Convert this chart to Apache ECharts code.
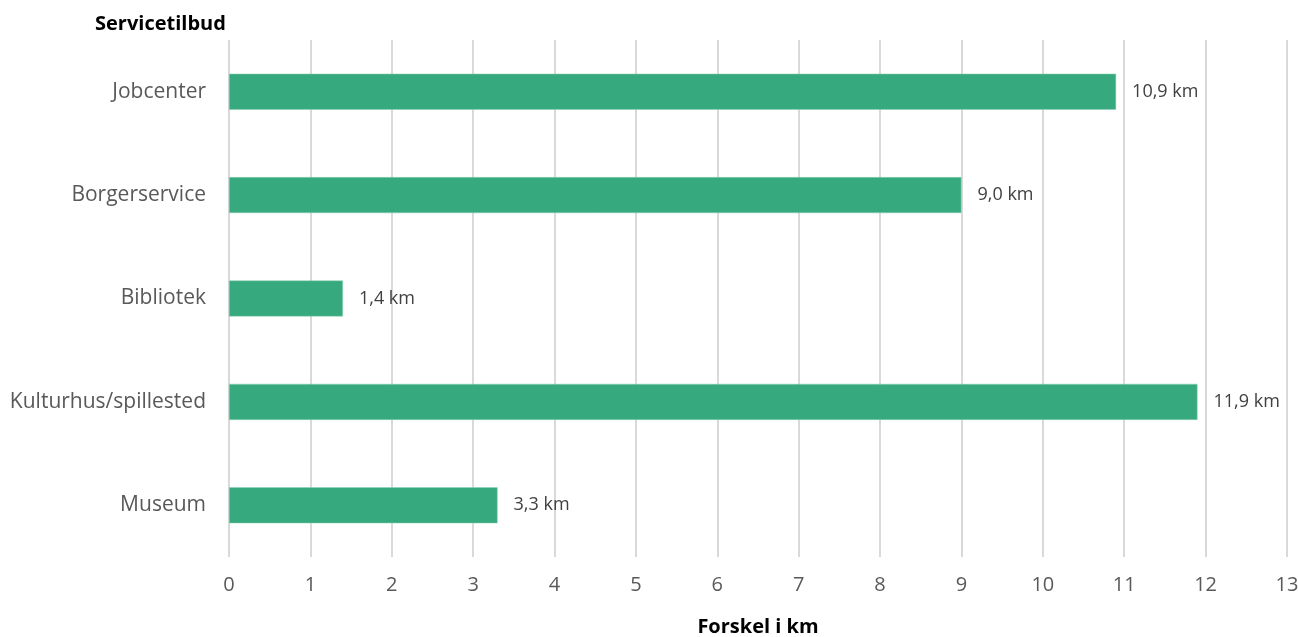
<!DOCTYPE html>
<html><head><meta charset="utf-8">
<script src="https://cdn.jsdelivr.net/npm/echarts@6/dist/echarts.min.js"></script>
<style>html,body{margin:0;padding:0;background:#fff}#c{width:1298px;height:637px}</style>
</head><body><div id="c"></div>
<script>
const categories = ["Jobcenter", "Borgerservice", "Bibliotek", "Kulturhus/spillested", "Museum"];
const values = [10.9, 9.0, 1.4, 11.9, 3.3];
const xTicks = [0,1,2,3,4,5,6,7,8,9,10,11,12,13];
const font = "'Open Sans', 'Noto Sans', sans-serif";
const chart = echarts.init(document.getElementById('c'));
chart.setOption({
  animation: false,
  title: {text: "Servicetilbud", left: 90, top: 9, textStyle: {fontFamily: font, fontSize: 20, fontWeight: 'bold', color: '#000'}},
  grid: {left: 229, right: 11, top: 40, bottom: 80, containLabel: false, outerBoundsMode: 'none'},
  xAxis: {
    type: 'value', min: 0, max: 13, interval: 1,
    name: "Forskel i km", nameLocation: 'middle', nameGap: 60,
    nameTextStyle: {fontFamily: font, fontSize: 20, fontWeight: 'bold', color: '#000'},
    axisLine: {show: false}, axisTick: {show: false},
    axisLabel: {fontFamily: font, fontSize: 20, color: '#595959', margin: 18, formatter: v => xTicks.includes(v) ? String(v) : ''},
    splitLine: {lineStyle: {color: '#d9d9d9', width: 2}}
  },
  yAxis: {
    type: 'category', data: categories, inverse: true,
    axisLine: {show: false}, axisTick: {show: false},
    axisLabel: {fontFamily: font, fontSize: 21, color: '#595959', margin: 23}
  },
  series: [{
    type: 'bar', data: values, barWidth: 36,
    itemStyle: {color: '#37a97e', borderColor: '#8fd3b5', borderWidth: 0.5},
    label: {show: true, position: 'right', distance: 16, fontFamily: font, fontSize: 18, color: '#404040',
      formatter: p => p.value.toFixed(1).replace('.', ',') + ' km'}
  }]
});
</script></body></html>
